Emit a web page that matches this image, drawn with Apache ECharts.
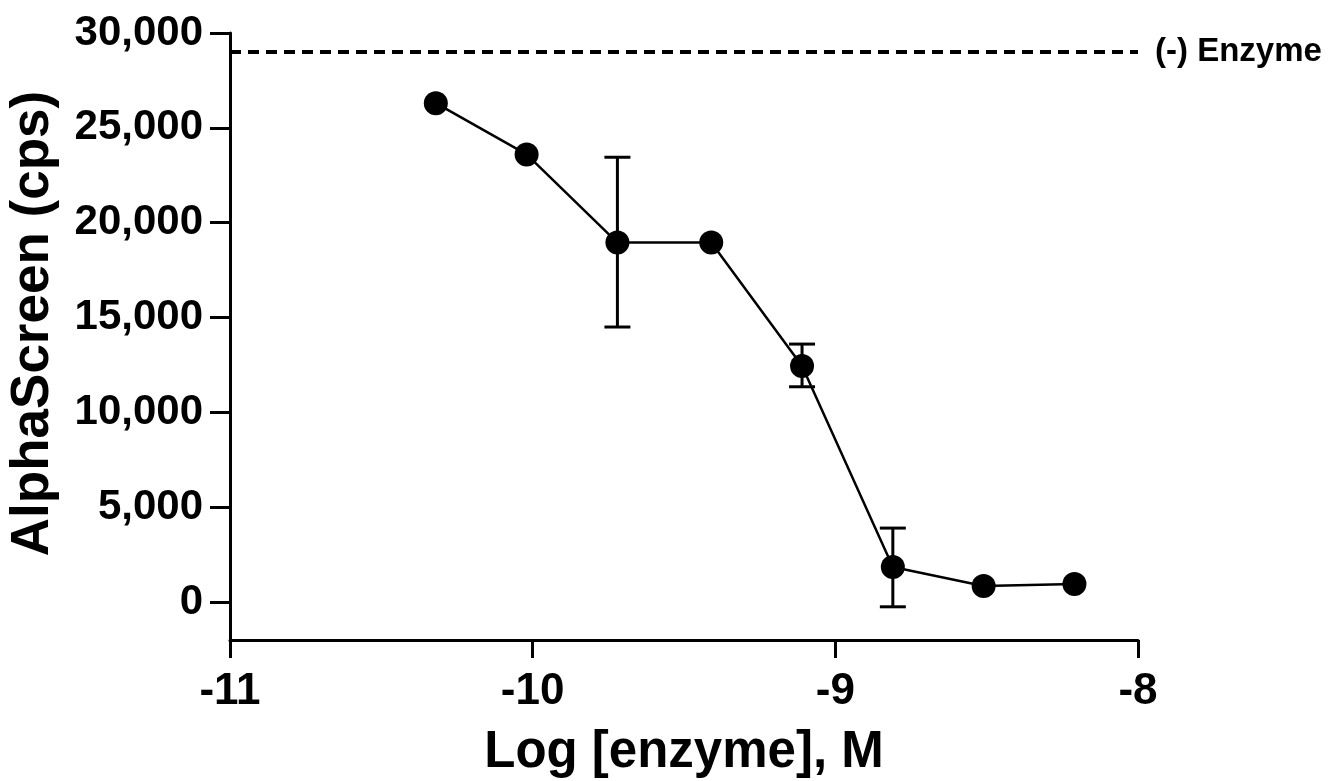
<!DOCTYPE html>
<html>
<head>
<meta charset="utf-8">
<script src="https://cdn.jsdelivr.net/npm/echarts@6/dist/echarts.min.js"></script>
<style>
  html, body { margin: 0; padding: 0; background: #fff; }
  #chart { width: 1331px; height: 781px; }
</style>
</head>
<body>
<div id="chart"></div>
<script>
// log [enzyme], M (2-fold dilutions)
const logConc = [-10.32, -10.02, -9.72, -9.41, -9.11, -8.81, -8.51, -8.21]
// AlphaScreen signal, cps
const signal = [26300, 23600, 18950, 18950, 12450, 1850, 850, 950]
// error bar ends (null = no bar drawn)
const errHigh = [null, null, 23450, null, 13600, 3900, null, null]
const errLow = [null, null, 14500, null, 11350, -250, null, null]
const noEnzyme = 29000
const yTicks = [0, 5000, 10000, 15000, 20000, 25000, 30000]
const xTicks = [-11, -10, -9, -8]

const chart = echarts.init(document.getElementById('chart'))
const font = 'Liberation Sans, Arial, sans-serif'

let errData = []
for (let i = 0; i < logConc.length; i++) {
    if (errHigh[i] !== null) {
        errData.push([logConc[i], errLow[i], errHigh[i]])
    }
}

function renderErr(params, api) {
    const x = api.value(0)
    const lo = api.coord([x, api.value(1)])
    const hi = api.coord([x, api.value(2)])
    const cap = 13
    const style = { stroke: '#000', lineWidth: 3 }
    return {
        type: 'group',
        children: [
            { type: 'line', shape: { x1: lo[0], y1: lo[1], x2: hi[0], y2: hi[1] }, style: style },
            { type: 'line', shape: { x1: hi[0] - cap, y1: hi[1], x2: hi[0] + cap, y2: hi[1] }, style: style },
            { type: 'line', shape: { x1: lo[0] - cap, y1: lo[1], x2: lo[0] + cap, y2: lo[1] }, style: style }
        ]
    }
}

const option = {
    animation: false,
    grid: { left: 230, right: 193, top: 33, bottom: 141, outerBoundsMode: 'none', containLabel: false },
    xAxis: {
        type: 'value',
        min: -11,
        max: -8,
        interval: 1,
        splitLine: { show: false },
        axisLine: { onZero: false, lineStyle: { color: '#000', width: 3 } },
        axisTick: { length: 18, lineStyle: { color: '#000', width: 3 }, customValues: xTicks },
        axisLabel: {
            customValues: xTicks,
            color: '#000', fontFamily: font, fontWeight: 'bold', fontSize: 44, margin: 30
        },
        name: 'Log [enzyme], M',
        nameLocation: 'middle',
        nameGap: 87,
        nameTextStyle: { color: '#000', fontFamily: font, fontWeight: 'bold', fontSize: 51 }
    },
    yAxis: {
        type: 'value',
        min: -2000,
        max: 30000,
        splitLine: { show: false },
        axisLine: { show: true, onZero: false, lineStyle: { color: '#000', width: 3 } },
        axisTick: { show: true, length: 20, lineStyle: { color: '#000', width: 3 }, customValues: yTicks },
        axisLabel: {
            customValues: yTicks,
            color: '#000', fontFamily: font, fontWeight: 'bold', fontSize: 42, margin: 27,
            formatter: v => v.toLocaleString('en-US')
        },
        name: 'AlphaScreen (cps)',
        nameLocation: 'middle',
        nameGap: 170,
        nameTextStyle: {
            color: '#000', fontFamily: font, fontWeight: 'bold', fontSize: 53,
            padding: [0, 0, 0, 26]
        }
    },
    series: [
        {
            type: 'custom',
            data: errData,
            renderItem: renderErr,
            z: 2
        },
        {
            type: 'line',
            data: logConc.map((x, i) => [x, signal[i]]),
            symbol: 'circle',
            symbolSize: 24,
            itemStyle: { color: '#000' },
            lineStyle: { color: '#000', width: 2.5 },
            z: 3,
            markLine: {
                silent: true,
                symbol: 'none',
                data: [{ yAxis: noEnzyme }],
                lineStyle: { color: '#000', width: 4, type: [11, 7] },
                label: {
                    position: 'end',
                    formatter: '(-) Enzyme',
                    color: '#000',
                    fontFamily: font,
                    fontWeight: 'bold',
                    fontSize: 33,
                    distance: 17
                }
            }
        }
    ]
}

chart.setOption(option)
</script>
</body>
</html>
